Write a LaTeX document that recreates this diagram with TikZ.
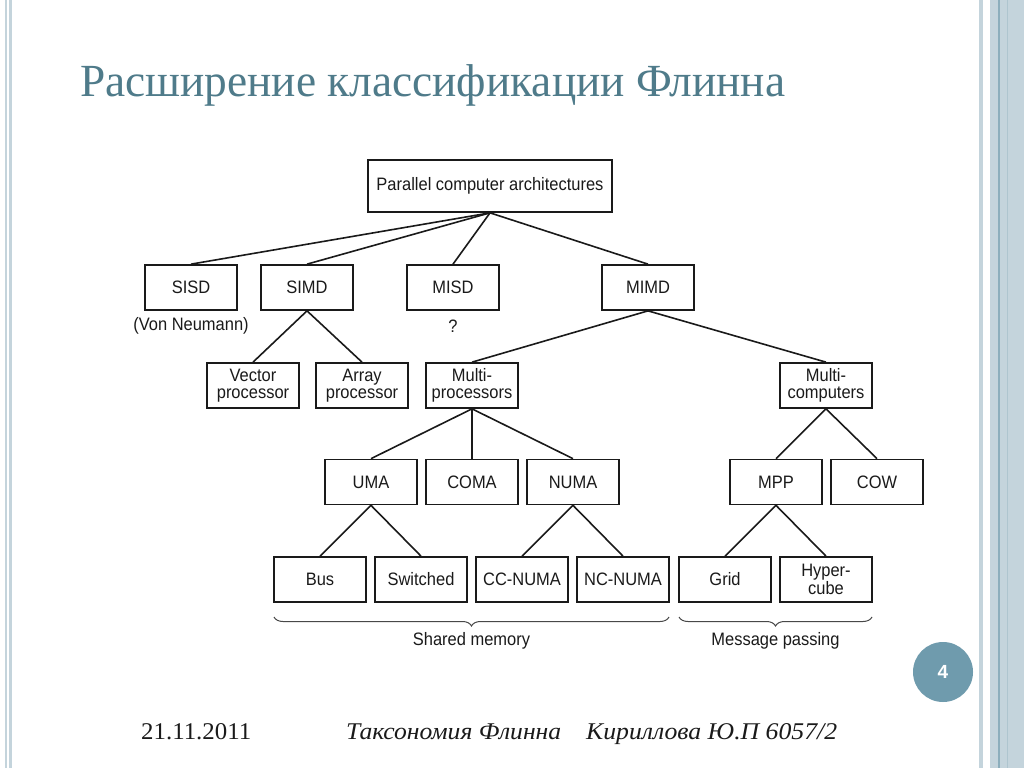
\documentclass[tikz,border=0pt]{standalone}
\usepackage{fontspec}
\usepackage{graphicx}
\setmainfont{Liberation Serif}
\setsansfont{Liberation Sans}
\newfontfamily\diagfont[FakeStretch=0.915]{Liberation Sans}
\usetikzlibrary{decorations.pathreplacing}

\definecolor{rail}{HTML}{C4D4DC}
\definecolor{raildark}{HTML}{8CAEBC}
\definecolor{titlecol}{HTML}{4F7B8A}
\definecolor{badge}{HTML}{6F9BAD}
\definecolor{ink}{HTML}{1A1A1A}

\tikzset{
  box/.style={draw=ink, line width=1.7pt, minimum width=92pt, minimum height=45pt,
    inner sep=0pt, align=center, text=ink,
    font=\diagfont\fontsize{18}{17.5}\selectfont},
  caption/.style={inner sep=0pt, text=ink, font=\diagfont\fontsize{18}{18}\selectfont},
  link/.style={draw=ink, line width=1.6pt},
  bracket/.style={draw=ink!80, line width=1pt,
    decorate, decoration={brace, mirror, amplitude=9pt}},
}

\begin{document}
\begin{tikzpicture}[x=1pt, y=-1pt]
\useasboundingbox (0,0) rectangle (1024,768);
\fill[white] (0,0) rectangle (1024,768);

% side rails
\fill[rail] (5,0) rectangle (7,768);
\fill[rail] (9,0) rectangle (12,768);
\fill[rail] (979,0) rectangle (983,768);
\fill[rail] (990,0) rectangle (1024,768);
\fill[raildark] (998,0) rectangle (999.5,768);
\fill[rail!60!raildark] (1006.5,0) rectangle (1007.5,768);

% title
\node[anchor=base west, inner sep=0pt, text=titlecol] (title) at (80,96)
  {\resizebox{705pt}{\height}{\fontsize{46}{52}\selectfont Расширение классификации Флинна}};

% tree
\node[box, minimum width=244pt, minimum height=52pt] (pca) at (490,186) {Parallel computer architectures};

\node[box] (sisd) at (191,287.5) {SISD};
\node[box] (simd) at (307,287.5) {SIMD};
\node[box] (misd) at (453,287.5) {MISD};
\node[box] (mimd) at (648,287.5) {MIMD};

\node[caption] (vonneumann) at (191,326) {(Von Neumann)};
\node[caption] (unknown) at (453,326) {?};

\node[box] (vector) at (253,385.5) {Vector\\processor};
\node[box] (array) at (362,385.5) {Array\\processor};
\node[box] (mproc) at (472,385.5) {Multi-\\processors};
\node[box] (mcomp) at (826,385.5) {Multi-\\computers};

\node[box] (uma) at (371,482) {UMA};
\node[box] (coma) at (472,482) {COMA};
\node[box] (numa) at (573,482) {NUMA};
\node[box] (mpp) at (776,482) {MPP};
\node[box] (cow) at (877,482) {COW};

\node[box] (bus) at (320,579.5) {Bus};
\node[box] (switched) at (421,579.5) {Switched};
\node[box] (ccnuma) at (522,579.5) {CC-NUMA};
\node[box] (ncnuma) at (623,579.5) {NC-NUMA};
\node[box] (grid) at (725,579.5) {Grid};
\node[box] (hyper) at (826,579.5) {Hyper-\\cube};

\foreach \child in {sisd, simd, misd, mimd}
  \draw[link] (pca.south) -- (\child.north);
\foreach \child in {vector, array}
  \draw[link] (simd.south) -- (\child.north);
\foreach \child in {mproc, mcomp}
  \draw[link] (mimd.south) -- (\child.north);
\foreach \child in {uma, coma, numa}
  \draw[link] (mproc.south) -- (\child.north);
\foreach \child in {mpp, cow}
  \draw[link] (mcomp.south) -- (\child.north);
\foreach \child in {bus, switched}
  \draw[link] (uma.south) -- (\child.north);
\foreach \child in {ccnuma, ncnuma}
  \draw[link] (numa.south) -- (\child.north);
\foreach \child in {grid, hyper}
  \draw[link] (mpp.south) -- (\child.north);

% memory model braces
\coordinate (shL) at (274,617);
\coordinate (shR) at (669,617);
\coordinate (mpL) at (679,617);
\coordinate (mpR) at (872,617);
\draw[bracket] (shL) -- (shR);
\draw[bracket] (mpL) -- (mpR);
\node[caption] (shared) at (471.5,640.5) {Shared memory};
\node[caption] (message) at (775.5,640.5) {Message passing};

% slide number
\node[circle, fill=badge, minimum size=60pt, inner sep=0pt, text=white,
      font=\sffamily\bfseries\fontsize{19}{19}\selectfont] (num) at (943,672) {4};

% footer
\node[anchor=base west, inner sep=0pt, text=ink] (date) at (141,739)
  {\resizebox{110pt}{\height}{\fontsize{24}{26}\selectfont 21.11.2011}};
\node[anchor=base west, inner sep=0pt, text=ink] (topic) at (346,739)
  {\resizebox{215pt}{\height}{\fontsize{24}{26}\selectfont\itshape Таксономия Флинна}};
\node[anchor=base west, inner sep=0pt, text=ink] (author) at (586,739)
  {\resizebox{251pt}{\height}{\fontsize{24}{26}\selectfont\itshape Кириллова Ю.П 6057/2}};
\end{tikzpicture}
\end{document}
